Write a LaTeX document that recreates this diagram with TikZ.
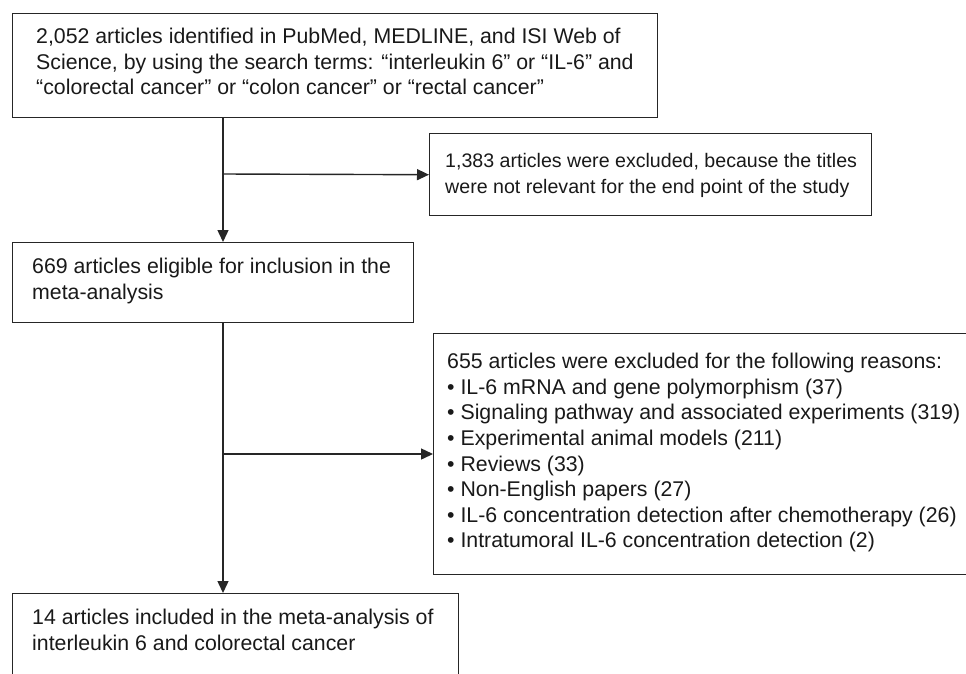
\documentclass[tikz,border=0pt]{standalone}
\usepackage{fontspec}
\setmainfont{Liberation Sans}
\usetikzlibrary{arrows.meta}
\begin{document}
\begin{tikzpicture}[x=1pt,y=-1pt,
  box/.style={draw=black!85, line width=1.4pt, inner sep=0pt, anchor=north west},
  txt/.style={inner sep=0pt, anchor=north west, align=left, font=\fontsize{21.3}{25.6}\selectfont, text=black!90},
  smalltxt/.style={txt, font=\fontsize{19.6}{25.6}\selectfont},
  arr/.style={draw=black!85, line width=1.4pt, -{Triangle[length=12pt,width=11pt]}}]
\useasboundingbox (0,0) rectangle (966,673);
\clip (0,0) rectangle (966,673);
% boxes
\node[box, minimum width=645pt, minimum height=104pt] (top) at (12,13) {};
\node[box, minimum width=442pt, minimum height=82pt] (rb1) at (429,133) {};
\node[box, minimum width=401pt, minimum height=80pt] (mid) at (12,242) {};
\node[box, minimum width=600pt, minimum height=241pt] (rb2) at (433,333) {};
\node[box, minimum width=446pt, minimum height=120pt] (bot) at (12,593) {};
% texts
\node[txt] (t1) at (36,28) {2,052 articles identified in PubMed, MEDLINE, and ISI Web of\\Science, by using the search terms: “interleukin 6” or “IL-6” and\\“colorectal cancer” or “colon cancer” or “rectal cancer”};
\node[smalltxt] (t2) at (445,153) {1,383 articles were excluded, because the titles\\were not relevant for the end point of the study};
\node[txt] (t3) at (32,258) {669 articles eligible for inclusion in the\\meta-analysis};
\node[txt] (t4) at (447,353) {655 articles were excluded for the following reasons:\\• IL-6 mRNA and gene polymorphism (37)\\• Signaling pathway and associated experiments (319)\\• Experimental animal models (211)\\• Reviews (33)\\• Non-English papers (27)\\• IL-6 concentration detection after chemotherapy (26)\\• Intratumoral IL-6 concentration detection (2)};
\node[txt] (t5) at (32,609) {14 articles included in the meta-analysis of\\interleukin 6 and colorectal cancer};
% connectors
\coordinate (j1) at (223,174);
\coordinate (j2) at (223,454);
\draw[arr] (top.south -| j1) -- (mid.north -| j1);
\draw[arr] (j1) -- (rb1.west);
\draw[arr] (mid.south -| j2) -- (bot.north -| j2);
\draw[arr] (j2) -- (rb2.west |- j2);
\end{tikzpicture}
\end{document}
